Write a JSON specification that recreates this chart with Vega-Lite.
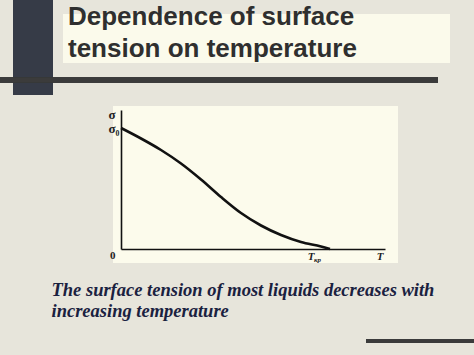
{
  "$schema": "https://vega.github.io/schema/vega-lite/v6.json",
  "autosize": {"type": "none"},
  "width": 264,
  "height": 139,
  "padding": {"left": 121, "top": 110, "right": 89, "bottom": 106},
  "background": "#e7e5db",
  "config": {"view": {"stroke": null}},
  "data": {
    "values": [
      {"T": 0, "sigma": 121},
      {"T": 20, "sigma": 110.5},
      {"T": 40, "sigma": 99},
      {"T": 60, "sigma": 85.5},
      {"T": 80, "sigma": 69.5},
      {"T": 100, "sigma": 52},
      {"T": 120, "sigma": 36},
      {"T": 140, "sigma": 23.5},
      {"T": 160, "sigma": 14},
      {"T": 180, "sigma": 7},
      {"T": 200, "sigma": 2.5},
      {"T": 209, "sigma": 0}
    ]
  },
  "layer": [
    {
      "mark": {"type": "rect", "color": "#fbfaeb"},
      "encoding": {
        "x": {"datum": -58, "type": "quantitative", "scale": {"domain": [0, 264], "nice": false}},
        "x2": {"datum": 329},
        "y": {"datum": 235, "type": "quantitative", "scale": {"domain": [0, 139], "nice": false}},
        "y2": {"datum": 186}
      }
    },
    {
      "mark": {"type": "rect", "color": "#363b47"},
      "encoding": {
        "x": {"datum": -108, "type": "quantitative", "scale": {"domain": [0, 264], "nice": false}},
        "x2": {"datum": -68},
        "y": {"datum": 249, "type": "quantitative", "scale": {"domain": [0, 139], "nice": false}},
        "y2": {"datum": 154}
      }
    },
    {
      "mark": {"type": "rule", "color": "#3b3b3b", "strokeWidth": 4.5},
      "encoding": {
        "x": {"datum": -121, "type": "quantitative", "scale": {"domain": [0, 264], "nice": false}},
        "x2": {"datum": 317},
        "y": {"datum": 169, "type": "quantitative", "scale": {"domain": [0, 139], "nice": false}}
      }
    },
    {
      "mark": {"type": "rule", "color": "#3b3b3b", "strokeWidth": 4},
      "encoding": {
        "x": {"datum": 245, "type": "quantitative", "scale": {"domain": [0, 264], "nice": false}},
        "x2": {"datum": 353},
        "y": {"datum": -92, "type": "quantitative", "scale": {"domain": [0, 139], "nice": false}}
      }
    },
    {
      "mark": {"type": "rect", "color": "#fcfbec"},
      "encoding": {
        "x": {"datum": -8, "type": "quantitative", "scale": {"domain": [0, 264], "nice": false}},
        "x2": {"datum": 277},
        "y": {"datum": 143, "type": "quantitative", "scale": {"domain": [0, 139], "nice": false}},
        "y2": {"datum": -14}
      }
    },
    {
      "mark": {"type": "line", "color": "#111111", "strokeWidth": 2.6, "interpolate": "monotone"},
      "encoding": {
        "x": {
          "field": "T", "type": "quantitative",
          "scale": {"domain": [0, 264], "nice": false},
          "axis": {
            "zindex": 1,
            "domainColor": "#111111", "domainWidth": 1.6,
            "ticks": false, "tickSize": 0, "grid": false,
            "values": [189.5, 196, 258.5],
            "labelOverlap": false,
            "labelExpr": "datum.value == 196 ? 'кр' : 'T'",
            "labelFont": "Liberation Serif",
            "labelFontStyle": "italic",
            "labelFontWeight": "bold",
            "labelColor": "#222222",
            "labelFontSize": {"condition": {"test": "datum.value == 196", "value": 7}, "value": 11},
            "labelPadding": {"condition": {"test": "datum.value == 196", "value": 6}, "value": 1},
            "labelBaseline": "top",
            "labelAlign": "center",
            "title": ["The surface tension of most liquids decreases with", "increasing temperature"],
            "titleFont": "Liberation Serif",
            "titleFontSize": 18.5,
            "titleFontStyle": "italic",
            "titleFontWeight": "bold",
            "titleColor": "#1a2140",
            "titleAlign": "left",
            "titleAnchor": "start",
            "titleBaseline": "top",
            "titleX": -70,
            "titleY": 31.6,
            "titleLineHeight": 21
          }
        },
        "y": {
          "field": "sigma", "type": "quantitative",
          "scale": {"domain": [0, 139], "nice": false},
          "axis": {
            "zindex": 1,
            "domainColor": "#111111", "domainWidth": 1.6,
            "ticks": false, "tickSize": 0, "grid": false,
            "values": [0, 121, 134.5],
            "labelOverlap": false,
            "labelExpr": "datum.value == 0 ? '0' : datum.value == 121 ? 'σ₀' : 'σ'",
            "labelFont": "Liberation Serif",
            "labelFontSize": {"condition": {"test": "datum.value == 0", "value": 11}, "value": 13},
            "labelFontWeight": "bold",
            "labelColor": "#222222",
            "labelAlign": "right",
            "labelBaseline": "middle",
            "labelPadding": {"condition": {"test": "datum.value == 121", "value": 2}, "value": 6},
            "labelOffset": {"condition": {"test": "datum.value == 0", "value": 6}, "value": 0},
            "title": ["Dependence of surface", "tension on temperature"],
            "titleAngle": 0,
            "titleAlign": "left",
            "titleAnchor": "start",
            "titleBaseline": "top",
            "titleX": -53.5,
            "titleY": -107,
            "titleFont": "Liberation Sans",
            "titleFontSize": 26,
            "titleFontWeight": "bold",
            "titleColor": "#2f2f2f",
            "titleLineHeight": 32
          }
        }
      }
    }
  ]
}
